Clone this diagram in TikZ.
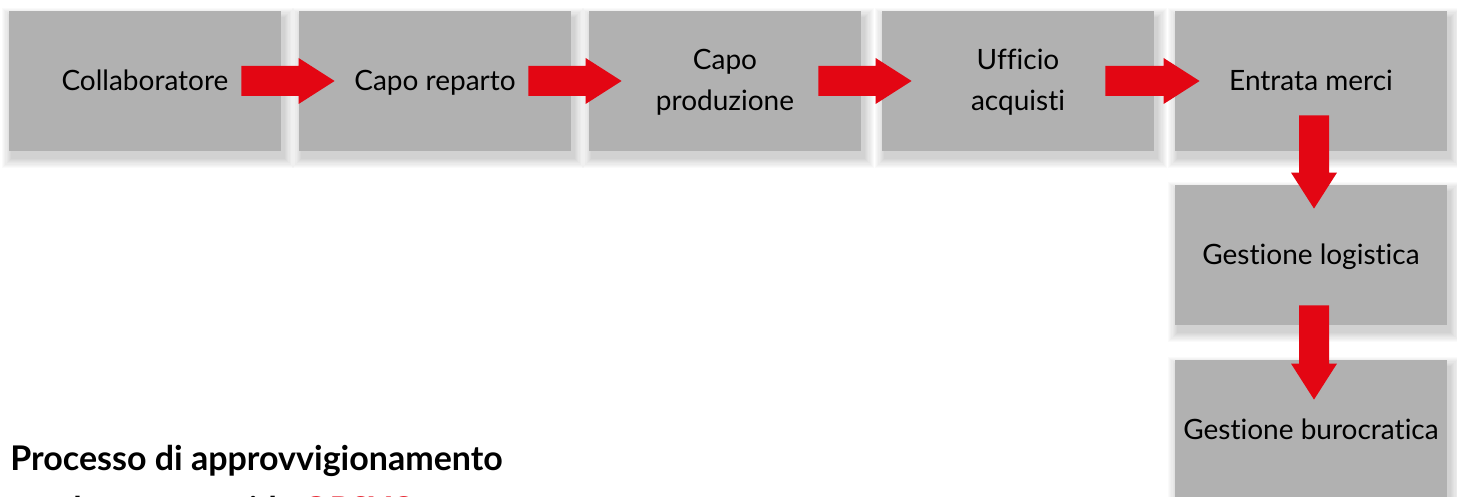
\documentclass[tikz,border=0pt]{standalone}
\usepackage{fontspec}
\setmainfont{Lato}[Ligatures=NoCommon]
\usetikzlibrary{calc}
\definecolor{boxgray}{RGB}{177,177,177}
\definecolor{arrowred}{RGB}{227,6,19}
\newcommand{\hblock}[2]{\fill[arrowred] ($(#1)+(0,-15)$) -- ($(#2)+(-36,-15)$) -- ($(#2)+(-36,-23)$) -- (#2) -- ($(#2)+(-36,23)$) -- ($(#2)+(-36,15)$) -- ($(#1)+(0,15)$) -- cycle;}
\newcommand{\vblock}[2]{\fill[arrowred] ($(#1)+(-15,0)$) -- ($(#2)+(-15,-36)$) -- ($(#2)+(-23,-36)$) -- (#2) -- ($(#2)+(23,-36)$) -- ($(#2)+(15,-36)$) -- ($(#1)+(15,0)$) -- cycle;}
\begin{document}
\begin{tikzpicture}[x=0.5pt,y=-0.5pt,
  stepbox/.style={fill=boxgray, minimum width=136pt, minimum height=70pt, inner sep=0pt,
    align=center, font=\fontsize{14}{20.5}\selectfont, text=black, text depth=1pt},
  titletext/.style={anchor=base west, inner sep=0pt, font=\fontsize{17}{20}\selectfont\bfseries}
]
\clip (0,0) rectangle (1457,497);
\fill[white] (0,0) rectangle (1457,497);
% soft shadows
\foreach \cx/\cy in {145/81,435/81,725/81,1018/81,1311/81,1311/255,1311/430}{
  \foreach \i in {1,...,9}{
    \fill[black, opacity=0.018] ({\cx-136+3-1.1*\i},{\cy-70+7-1.1*\i}) rectangle ({\cx+136+3+1.1*\i},{\cy+70+7+1.1*\i});
  }
}
% boxes
\node[stepbox] (c1) at (145,81) {Collaboratore};
\node[stepbox] (c2) at (435,81) {Capo reparto};
\node[stepbox] (c3) at (725,81) {Capo\\produzione};
\node[stepbox] (c4) at (1018,81) {Ufficio\\acquisti};
\node[stepbox] (c5) at (1311,81) {Entrata merci};
\node[stepbox] (c6) at (1311,255) {Gestione logistica};
\node[stepbox] (c7) at (1311,430) {Gestione burocratica};
% arrow ends
\coordinate (t1) at ($(c1.east)+(-40,0)$);  \coordinate (h1) at ($(c2.west)+(36,0)$);
\coordinate (t2) at ($(c2.east)+(-43,0)$);  \coordinate (h2) at ($(c3.west)+(33,0)$);
\coordinate (t3) at ($(c3.east)+(-43,0)$);  \coordinate (h3) at ($(c4.west)+(30,0)$);
\coordinate (t4) at ($(c4.east)+(-49,0)$);  \coordinate (h4) at ($(c5.west)+(25,0)$);
\coordinate (t5) at ($(c5.south)+(3,-36)$); \coordinate (h5) at ($(c6.north)+(3,24)$);
\coordinate (t6) at ($(c6.south)+(3,-20)$); \coordinate (h6) at ($(c7.north)+(3,40)$);
\hblock{t1}{h1}
\hblock{t2}{h2}
\hblock{t3}{h3}
\hblock{t4}{h4}
\vblock{t5}{h5}
\vblock{t6}{h6}
% title
\node[titletext] (title) at (10,470) {Processo di approvvigionamento};
\node[titletext] (title2) at (10,521) {con la nostra guida \textcolor{arrowred}{OPSY®}};
\end{tikzpicture}
\end{document}
